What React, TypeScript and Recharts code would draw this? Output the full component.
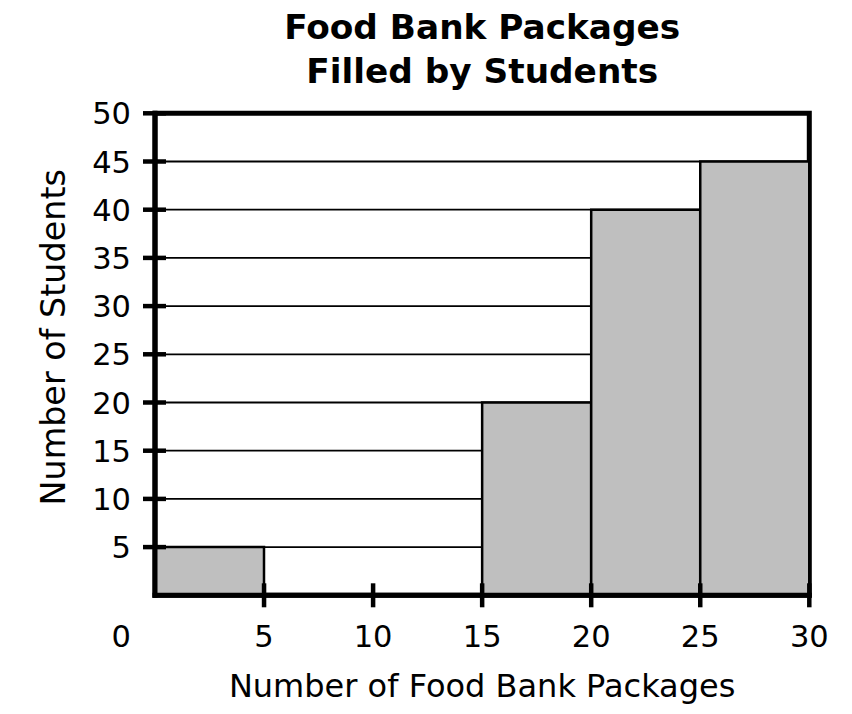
import React from 'react';
import { BarChart, Bar, XAxis, YAxis, CartesianGrid, Label, ReferenceArea } from 'recharts';

const binStarts = [0, 5, 10, 15, 20, 25];
const binWidth = 5;
const studentCounts = [5, 0, 0, 20, 40, 45];
const xTicks = [0, 5, 10, 15, 20, 25, 30];
const yTicks = [0, 5, 10, 15, 20, 25, 30, 35, 40, 45, 50];
const titleLines = ['Food Bank Packages', 'Filled by Students'];
const xTitle = 'Number of Food Bank Packages';
const yTitle = 'Number of Students';

const data = binStarts.map((s, i) => ({ mid: s + binWidth / 2, count: studentCounts[i] }));

const FONT = '"DejaVu Sans", Verdana, sans-serif';
const TICK_FS = 30.5;

const YTick = (props: any) => {
  const { x, y, payload } = props;
  const v = payload.value;
  if (v <= 0) return <g />;
  return (
    <g>
      <line x1={x - 12} x2={x + 11} y1={y} y2={y} stroke="#000" strokeWidth={4.5} />
      <text x={x - 24} y={y + 11} textAnchor="end" fontSize={TICK_FS} fontFamily={FONT} fill="#000">
        {v}
      </text>
    </g>
  );
};

const XTick = (props: any) => {
  const { x, y, payload } = props;
  const v = payload.value;
  return (
    <g>
      {v > 0 && <line x1={x} x2={x} y1={y - 12} y2={y + 12} stroke="#000" strokeWidth={4.5} />}
      <text
        x={v === 0 ? x - 24 : x}
        y={y + 52}
        textAnchor={v === 0 ? 'end' : 'middle'}
        fontSize={TICK_FS}
        fontFamily={FONT}
        fill="#000"
      >
        {v}
      </text>
    </g>
  );
};

const axisLineStyle = { stroke: '#000', strokeWidth: 5, strokeLinecap: 'square' as const };

export default function App() {
  return (
    <div style={{ position: 'absolute', left: 0, top: 0, background: '#fff' }}>
      <BarChart
        width={852}
        height={714}
        data={data}
        margin={{ top: 113.3, right: 42.7, bottom: 0, left: 0 }}
        barCategoryGap={0}
        barGap={0}
      >
        <CartesianGrid horizontal vertical={false} stroke="#000" strokeWidth={1.8} />
        <Bar
          dataKey="count"
          fill="#BFBFBF"
          stroke="#000"
          strokeWidth={2.5}
          isAnimationActive={false}
        />
        <ReferenceArea
          x1={xTicks[0]}
          x2={xTicks[xTicks.length - 1]}
          y1={yTicks[0]}
          y2={yTicks[yTicks.length - 1]}
          fill="none"
          fillOpacity={0}
          stroke="#000"
          strokeWidth={5}
          strokeOpacity={1}
          ifOverflow="visible"
        />
        <XAxis
          dataKey="mid"
          type="number"
          domain={[0, 30]}
          ticks={xTicks}
          interval={0}
          height={118.7}
          axisLine={axisLineStyle}
          tickLine={false}
          tickSize={0}
          tickMargin={0}
          tick={<XTick />}
        >
          <Label
            content={(p: any) => {
              const vb = p.viewBox || {};
              return (
                <text
                  x={vb.x + vb.width / 2}
                  y={vb.y + vb.height - 17}
                  textAnchor="middle"
                  fontSize={32}
                  fontFamily={FONT}
                  fill="#000"
                >
                  {xTitle}
                </text>
              );
            }}
          />
        </XAxis>
        <YAxis
          type="number"
          domain={[0, 50]}
          ticks={yTicks}
          interval={0}
          width={155}
          axisLine={axisLineStyle}
          tickLine={false}
          tickSize={0}
          tickMargin={0}
          tick={<YTick />}
        >
          <Label
            content={(p: any) => {
              const vb = p.viewBox || {};
              const cx = vb.x + 65;
              const cy = vb.y + vb.height / 2 - 17;
              const titleX = vb.x + vb.width + 327.2;
              return (
                <g>
                  <text
                    x={cx}
                    y={cy}
                    transform={`rotate(-90, ${cx}, ${cy})`}
                    textAnchor="middle"
                    fontSize={33.4}
                    fontFamily={FONT}
                    fill="#000"
                  >
                    {yTitle}
                  </text>
                  {titleLines.map((t, i) => (
                    <text
                      key={t}
                      x={titleX}
                      y={vb.y - 74.3 + i * 44}
                      textAnchor="middle"
                      fontSize={34.3}
                      fontWeight="bold"
                      fontFamily={FONT}
                      fill="#000"
                    >
                      {t}
                    </text>
                  ))}
                </g>
              );
            }}
          />
        </YAxis>
      </BarChart>
    </div>
  );
}
